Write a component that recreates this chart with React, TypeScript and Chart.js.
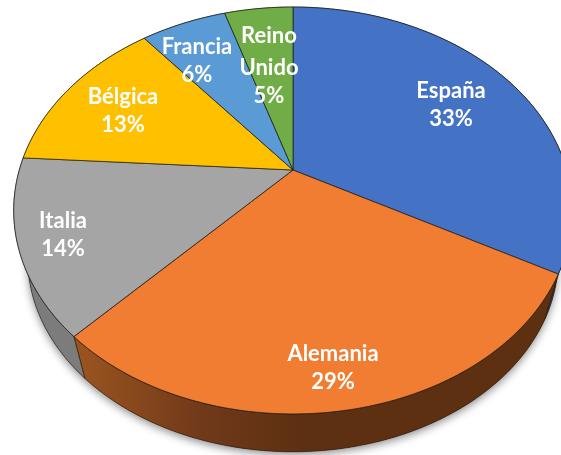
import React, { useEffect, useRef } from "react";
import { Chart, registerables } from "chart.js";

Chart.register(...registerables);

const categories = ["España", "Alemania", "Italia", "Bélgica", "Francia", "Reino Unido"];
const shares = [33, 29, 14, 13.2, 6, 4.8];
const topColors = ["#4472C4", "#F07D31", "#A5A5A5", "#FFC000", "#5B9BD5", "#70AD47"];
const sideColors = ["#2A4478", "#5E3012", "#7C7C7C", "#997300", "#376092", "#43682B"];
// centre of the first text line of each label
const labelX = [451, 333, 63, 123, 197, 269];
const labelY = [91, 354, 221, 97, 47, 36];

const PERSP = { cx: 293, cy: 170, R: 273.7, S: 195.4, k: -0.199, shrink: 0.95, vanishY: 1170 };

function project(angle: number) {
  const u = Math.cos(angle);
  const v = Math.sin(angle);
  const d = 1 + PERSP.k * v;
  return { x: PERSP.cx + (PERSP.R * u) / d, y: PERSP.cy + (PERSP.S * v) / d };
}
function projectLow(angle: number) {
  const p = project(angle);
  return {
    x: PERSP.cx + (p.x - PERSP.cx) * PERSP.shrink,
    y: PERSP.vanishY - (PERSP.vanishY - p.y) * PERSP.shrink,
  };
}
function samples(a0: number, a1: number) {
  const n = Math.max(2, Math.ceil((a1 - a0) * 60));
  const out: number[] = [];
  for (let i = 0; i <= n; i++) out.push(a0 + ((a1 - a0) * i) / n);
  return out;
}

const pie3d = {
  id: "pie3d",
  beforeDatasetDraw(chart: any) {
    const ctx = chart.ctx;
    const arcs = chart.getDatasetMeta(0).data;
    ctx.save();
    ctx.lineJoin = "round";

    // soft shadow beneath the body
    ctx.save();
    ctx.shadowColor = "rgba(0,0,0,0.45)";
    ctx.shadowBlur = 9;
    ctx.shadowOffsetX = 0;
    ctx.shadowOffsetY = 3;
    ctx.fillStyle = "#5E3012";
    ctx.beginPath();
    samples(0, Math.PI * 2).forEach((a, i) => {
      const p = projectLow(a);
      if (i) ctx.lineTo(p.x, p.y);
      else ctx.moveTo(p.x, p.y);
    });
    ctx.closePath();
    ctx.fill();
    ctx.restore();

    // walls
    arcs.forEach((arc: any, i: number) => {
      const pts = samples(arc.startAngle, arc.endAngle);
      ctx.beginPath();
      pts.forEach((a, j) => {
        const p = project(a);
        if (j) ctx.lineTo(p.x, p.y);
        else ctx.moveTo(p.x, p.y);
      });
      pts.slice().reverse().forEach((a) => {
        const p = projectLow(a);
        ctx.lineTo(p.x, p.y);
      });
      ctx.closePath();
      let fill: any = sideColors[i];
      if (i === 1) {
        const g = ctx.createLinearGradient(85, 0, 300, 0);
        g.addColorStop(0, "#98531F");
        g.addColorStop(0.55, "#70391A");
        g.addColorStop(1, sideColors[1]);
        fill = g;
      }
      ctx.fillStyle = fill;
      ctx.fill();
      ctx.strokeStyle = "rgba(35,25,15,0.6)";
      ctx.lineWidth = 1;
      ctx.stroke();
    });

    // top faces
    arcs.forEach((arc: any, i: number) => {
      ctx.beginPath();
      ctx.moveTo(PERSP.cx, PERSP.cy);
      samples(arc.startAngle, arc.endAngle).forEach((a) => {
        const p = project(a);
        ctx.lineTo(p.x, p.y);
      });
      ctx.closePath();
      ctx.fillStyle = topColors[i];
      ctx.fill();
      ctx.strokeStyle = "rgba(25,25,25,0.7)";
      ctx.lineWidth = 1;
      ctx.stroke();
    });

    // labels
    ctx.fillStyle = "#FFFFFF";
    ctx.font = "700 22px Lato";
    ctx.textAlign = "center";
    ctx.textBaseline = "middle";
    const total = shares.reduce((s, v) => s + v, 0);
    categories.forEach((name, i) => {
      const words = name === "Reino Unido" ? name.split(" ") : [name];
      const lines = [...words, `${Math.round((shares[i] / total) * 100)}%`];
      let y = labelY[i];
      lines.forEach((t, j) => {
        ctx.fillText(t, labelX[i], y);
        y += lines.length > 2 && j === 0 ? 32 : 28;
      });
    });
    ctx.restore();
    return false;
  },
};

export default function App() {
  const ref = useRef<HTMLCanvasElement>(null);
  useEffect(() => {
    const chart = new Chart(ref.current as HTMLCanvasElement, {
      type: "pie",
      data: {
        labels: categories,
        datasets: [{ data: shares, backgroundColor: topColors }],
      },
      options: {
        responsive: false,
        animation: false,
        plugins: { legend: { display: false }, tooltip: { enabled: false } },
      },
      plugins: [pie3d],
    } as any);
    return () => chart.destroy();
  }, []);
  return (
    <div style={{ position: "absolute", left: 0, top: 0, width: 561, height: 455, background: "#fff", overflow: "hidden" }}>
      <canvas ref={ref} width={561} height={455} style={{ display: "block" }} />
    </div>
  );
}
